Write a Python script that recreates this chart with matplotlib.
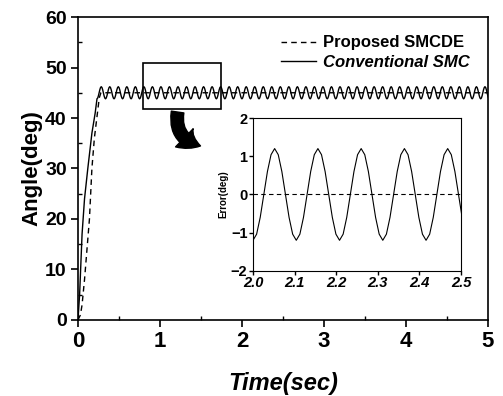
import numpy as np
import matplotlib
matplotlib.use('Agg')
import matplotlib.pyplot as plt
from matplotlib.patches import Rectangle, FancyArrowPatch
from matplotlib.ticker import MultipleLocator

plt.rcParams['font.family'] = ['Liberation Sans', 'DejaVu Sans']

# rise of the proposed SMCDE (dashed), settles at 45 deg with no error
prop_t = [0, 0.03, 0.05, 0.08, 0.11, 0.14, 0.17, 0.20, 0.23, 0.26, 0.28, 5.0]
prop_y = [0, 1, 3, 8, 14, 20, 30, 36, 40, 44, 45, 45]

# rise of the conventional SMC (solid) before chattering starts
conv_rise_t = [0, 0.02, 0.05, 0.08, 0.12, 0.17, 0.21]
conv_rise_y = [0, 5, 17, 24, 30, 37, 41]

# one chattering cycle of the conventional SMC error, deg
err_cycle = [-1.2, -1.04, -0.6, 0, 0.6, 1.04, 1.2, 1.04, 0.6, 0, -0.6, -1.04]
period = 0.104
setpoint = 45
t_start = 2.0 - 17 * period   # trough at t = 2.0 as in the inset

# repeat the measured cycle over the run
n_cyc = int((5.0 - t_start) / period) + 2
osc_t = t_start + np.arange(n_cyc * len(err_cycle)) * period / len(err_cycle)
osc_e = np.tile(err_cycle, n_cyc)

conv_t = np.concatenate([conv_rise_t, osc_t])
conv_y = np.concatenate([conv_rise_y, setpoint + osc_e])

fig = plt.figure(figsize=(5.03, 3.96), dpi=100)
ax = fig.add_axes([0.155, 0.192, 0.815, 0.765])
ax.plot(prop_t, prop_y, 'k--', lw=1.0, dashes=(4, 3), label='Proposed SMCDE')
ax.plot(conv_t, conv_y, 'k-', lw=1.0, label='Conventional SMC')
ax.set_xlim(0, 5)
ax.set_ylim(0, 60)
ax.xaxis.set_major_locator(MultipleLocator(1))
ax.xaxis.set_minor_locator(MultipleLocator(0.5))
ax.yaxis.set_major_locator(MultipleLocator(10))
ax.yaxis.set_minor_locator(MultipleLocator(5))
ax.tick_params(which='major', direction='out', length=5, width=1.2)
ax.tick_params(which='minor', direction='in', length=3, width=1)
ax.tick_params(axis='x', labelsize=16, pad=3)
ax.tick_params(axis='y', labelsize=14, pad=3)
for lab in ax.get_xticklabels() + ax.get_yticklabels():
    lab.set_fontweight('bold')
for s in ax.spines.values():
    s.set_linewidth(1.2)
ax.set_xlabel('Time(sec)', fontsize=17, fontweight='bold', style='italic', labelpad=14)
ax.set_ylabel('Angle(deg)', fontsize=16, fontweight='bold', labelpad=2)
leg = ax.legend(loc='upper right', frameon=False, handlelength=2.1, handletextpad=0.4,
                prop={'weight': 'bold', 'size': 12}, borderaxespad=0.7, labelspacing=0.25)
leg.get_texts()[1].set_style('italic')

# zoom box and arrow
ax.add_patch(Rectangle((0.79, 41.8), 0.95, 9.1, fill=False, ec='k', lw=1.2))
arrow = FancyArrowPatch((0.354, 0.724), (0.404, 0.630), transform=fig.transFigure,
                        connectionstyle='arc3,rad=0.5',
                        arrowstyle='simple,head_width=1.4,head_length=1.0,tail_width=0.7',
                        mutation_scale=13, color='k')
fig.patches.append(arrow)

# inset with the tracking error
ins = fig.add_axes([0.503, 0.316, 0.4135, 0.386])
ins.plot([2.0, 2.5], [0, 0], 'k--', lw=0.8, dashes=(4, 3))
mask = (osc_t >= 1.99) & (osc_t <= 2.51)
ins.plot(osc_t[mask], osc_e[mask], 'k-', lw=0.8)
ins.set_xlim(2.0, 2.5)
ins.set_ylim(-2, 2)
ins.xaxis.set_major_locator(MultipleLocator(0.1))
ins.yaxis.set_major_locator(MultipleLocator(1))
ins.tick_params(which='major', direction='out', length=3, width=1, labelsize=10.5, pad=1)
for lab in ins.get_xticklabels():
    lab.set_fontweight('bold')
    lab.set_style('italic')
for lab in ins.get_yticklabels():
    lab.set_fontweight('bold')
ins.set_ylabel('Error(deg)', fontsize=7, fontweight='bold', labelpad=2)

fig.savefig('out.png', dpi=100)
